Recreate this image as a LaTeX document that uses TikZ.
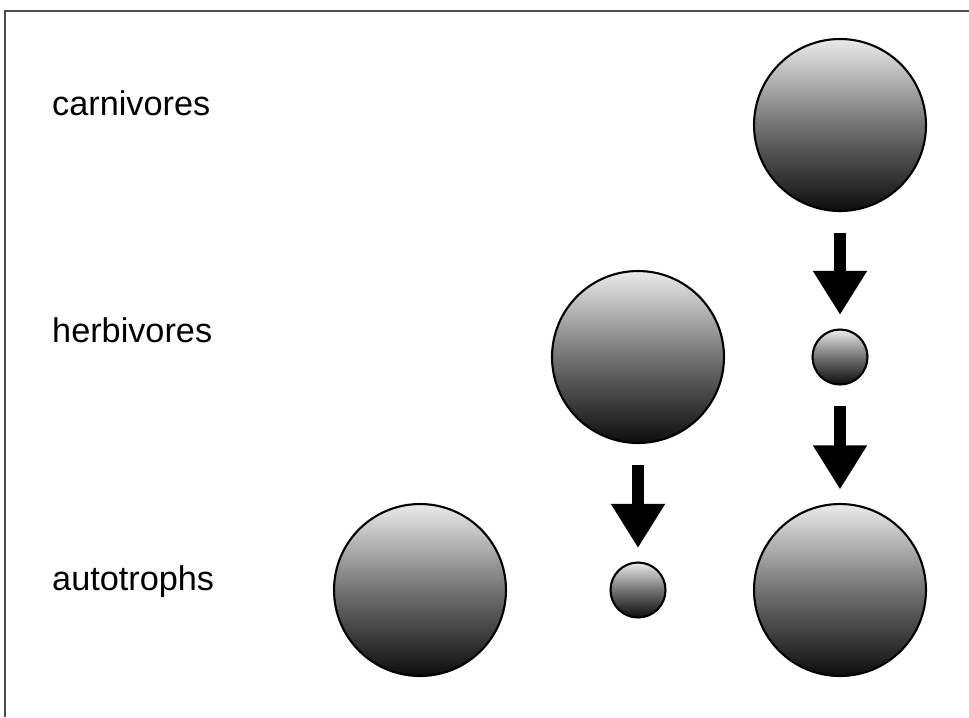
\documentclass[tikz,border=0pt]{standalone}
\usepackage{fontspec}
\setmainfont{Liberation Sans}
\usetikzlibrary{math, arrows.meta}

\begin{document}
\begin{tikzpicture}[x=0.02cm, y=-0.02cm,
    level/.style={anchor=base west, font=\fontsize{19.5}{24}\selectfont},
    organism/.style={circle, draw=black, line width=1.2pt, inner sep=0pt,
        top color=black!8, bottom color=black!95, middle color=black!55},
    bigorg/.style={organism, minimum size=3.44cm},
    smallorg/.style={organism, minimum size=1.1cm},
    flow/.style={line width=0.24cm, -{Triangle[width=1.02cm, length=0.88cm]},
        shorten <=0.41cm, shorten >=0.27cm}]
    \tikzmath{
        \colleft=420;
        \colmid=638;
        \colright=840;
        \rowtop=125;
        \rowmid=357;
        \rowbot=590;
    }

    \useasboundingbox (0, 0) rectangle (969, 717);
    % frame
    \draw [black!70, line width=0.7pt] (5, 717) -- (5, 11) -- (969, 11);

    % level labels
    \node [level] (labCarn) at (46, 115) {carnivores};
    \node [level] (labHerb) at (46, 342) {herbivores};
    \node [level] (labAuto) at (46, 590) {autotrophs};

    % organisms
    \node [bigorg] (carnBig) at (\colright, \rowtop) {};
    \node [bigorg] (herbBig) at (\colmid, \rowmid) {};
    \node [smallorg] (herbSmall) at (\colright, \rowmid) {};
    \node [bigorg] (autoLeft) at (\colleft, \rowbot) {};
    \node [smallorg] (autoSmall) at (\colmid, \rowbot) {};
    \node [bigorg] (autoRight) at (\colright, \rowbot) {};

    % arrows
    \draw [flow] (carnBig.south) -- (herbSmall.north);
    \draw [flow] (herbSmall.south) -- (autoRight.north);
    \draw [flow] (herbBig.south) -- (autoSmall.north);
\end{tikzpicture}
\end{document}
